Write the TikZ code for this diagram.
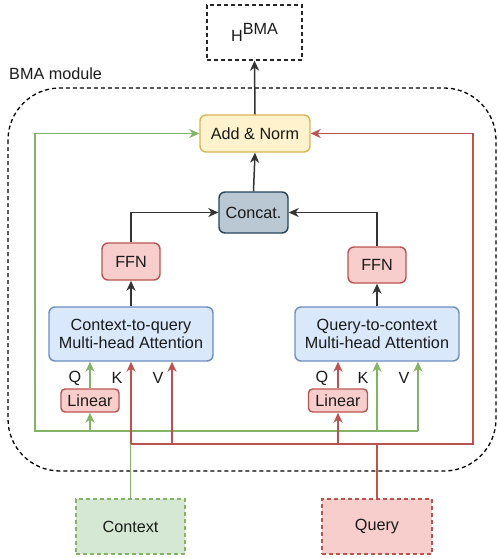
\documentclass[tikz,border=0pt]{standalone}
\usepackage{fontspec}
\setmainfont{Liberation Sans}
\usetikzlibrary{arrows.meta}

\definecolor{ylwfill}{HTML}{FFF2CC}\definecolor{ylwline}{HTML}{D6B656}
\definecolor{bluefill}{HTML}{DAE8FC}\definecolor{blueline}{HTML}{6C8EBF}
\definecolor{redfill}{HTML}{F8CECC}\definecolor{redline}{HTML}{B85450}
\definecolor{grnfill}{HTML}{D5E8D4}\definecolor{grnline}{HTML}{82B366}
\definecolor{grayfill}{HTML}{BAC8D3}\definecolor{grayline}{HTML}{23445D}
\definecolor{inkcol}{HTML}{1A1A1A}

\begin{document}
\begin{tikzpicture}[x=1pt,y=-1pt,
  font=\fontsize{16.2}{19.5}\selectfont,
  every node/.style={inner sep=0pt,text=inkcol},
  box/.style={rounded corners=6pt,line width=1.4pt,align=center},
  ylwbox/.style={box,fill=ylwfill,draw=ylwline},
  bluebox/.style={box,fill=bluefill,draw=blueline},
  redbox/.style={box,fill=redfill,draw=redline},
  graybox/.style={box,fill=grayfill,draw=grayline},
  tip/.style={-{Stealth[length=10pt,width=9pt,inset=3pt]}},
  blk/.style={line width=1.5pt,draw=black!80},
  gline/.style={line width=1.5pt,draw=grnline},
  rline/.style={line width=1.5pt,draw=redline},
  lbl/.style={anchor=center}]

\useasboundingbox (0,0) rectangle (498,558);

% module frame and its caption
\draw[dashed,dash pattern=on 4pt off 3pt,line width=1.3pt,rounded corners=52pt]
  (8,88) rectangle (496,471);
\node[anchor=west] (cap) at (9,74) {BMA module};

% output
\node[draw=black!85,dashed,dash pattern=on 4pt off 3pt,line width=1.3pt,
      minimum width=95pt,minimum height=55pt] (hbma) at (254.5,32.5)
      {H\raisebox{7pt}{BMA}};

% main blocks
\node[ylwbox,minimum width=110pt,minimum height=37pt] (addnorm) at (255,133.5) {Add \& Norm};
\node[graybox,minimum width=69pt,minimum height=41pt] (concat) at (253.5,212.5) {Concat.};
\node[redbox,minimum width=58pt,minimum height=37pt] (ffnL) at (131,261.5) {FFN};
\node[redbox,minimum width=58pt,minimum height=36pt] (ffnR) at (377,265) {FFN};
\node[bluebox,minimum width=164pt,minimum height=54pt] (attL) at (131,334)
  {Context-to-query\\[-1pt]Multi-head Attention};
\node[bluebox,minimum width=164pt,minimum height=54pt] (attR) at (377,334)
  {Query-to-context\\[-1pt]Multi-head Attention};
\node[redbox,rounded corners=4pt,minimum width=58pt,minimum height=23pt] (linL) at (90,400.5) {Linear};
\node[redbox,rounded corners=4pt,minimum width=59pt,minimum height=23pt] (linR) at (338,400.5) {Linear};

% inputs
\node[fill=grnfill,draw=grnline,dashed,dash pattern=on 4pt off 3pt,line width=1.3pt,
      minimum width=109pt,minimum height=55pt] (context) at (130.5,526.5) {Context};
\node[fill=redfill,draw=redline,dashed,dash pattern=on 4pt off 3pt,line width=1.3pt,
      minimum width=110pt,minimum height=55pt] (query) at (377,526.5) {Query};

% Q / K / V labels
\node[lbl] (qL) at (75,378) {Q};
\node[lbl] (kL) at (117,378) {K};
\node[lbl] (vL) at (158,378) {V};
\node[lbl] (qR) at (322,378) {Q};
\node[lbl] (kR) at (363,378) {K};
\node[lbl] (vR) at (404,378) {V};

% bus coordinates
\coordinate (gl) at (35,431);
\coordinate (gr) at (418,431);
\coordinate (rl) at (131,444);
\coordinate (rr) at (473,444);
\coordinate (rv) at (172,444);

% context (green) paths
\draw[gline] (context.north) -- (context.north |- gl);
\draw[gline,tip] (gr) -- (gl) |- (addnorm.west);
\draw[gline,tip] (linL.south |- gl) -- (linL.south);
\draw[gline,tip] (linL.north) -- (linL.north |- attL.south);
\draw[gline,tip] (attR.south |- gl) -- (attR.south);
\draw[gline,tip] (gr) -- (gr |- attR.south);

% query (red) paths
\draw[rline] (query.north) -- (query.north |- rl);
\draw[rline,tip] (rl) -- (rr) |- (addnorm.east);
\draw[rline,tip] (rl) -- (attL.south);
\draw[rline,tip] (rv) -- (rv |- attL.south);
\draw[rline,tip] (linR.south |- rl) -- (linR.south);
\draw[rline,tip] (linR.north) -- (linR.north |- attR.south);

% main flow (black)
\draw[blk,tip] (attL.north) -- (ffnL.south);
\draw[blk,tip] (attR.north) -- (ffnR.south);
\draw[blk,tip] (ffnL.north) |- (concat.west);
\draw[blk,tip] (ffnR.north) |- (concat.east);
\draw[blk,tip] (concat.north) -- (addnorm.south);
\draw[blk,tip] (addnorm.north) -- (hbma.south);
\end{tikzpicture}
\end{document}
